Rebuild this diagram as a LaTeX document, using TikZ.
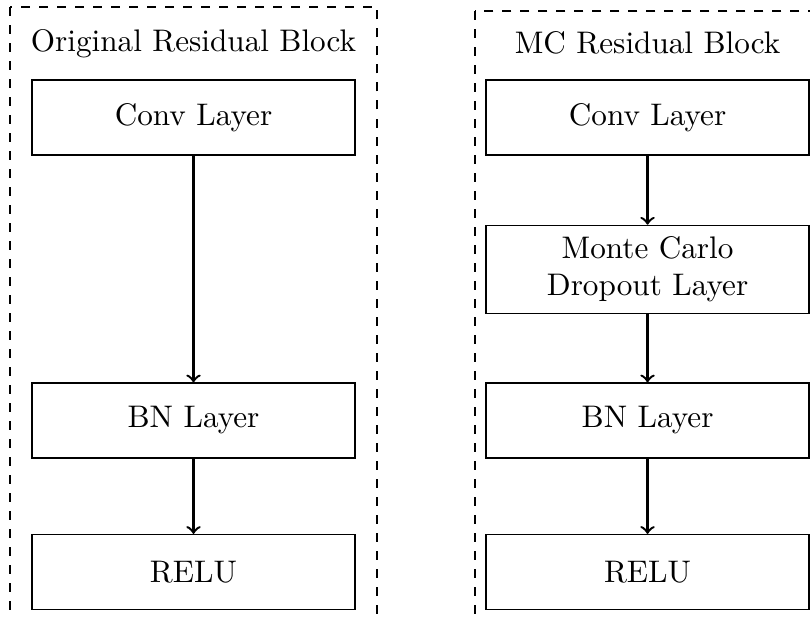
\documentclass[tikz,border=0pt]{standalone}
\begin{document}
\begin{tikzpicture}[every node/.style={font=\fontsize{10.4}{12.4}\selectfont}]
    \tikzset{layer/.style={draw, minimum width=3.784cm, minimum height=0.879cm, align=center, inner ysep=3.8pt},
             flow/.style={->, thick}}
    \useasboundingbox (0,0) rectangle (9.489,-7.228);
    % Frames
    \draw[dashed] (0.117,-0.082) rectangle (4.417,-7.6);
    \draw[dashed] (5.565,-0.129) rectangle (9.80,-7.6);
    % Original block
    \node[anchor=base] (origtitle) at (2.267,-0.609) {Original Residual Block};
    \node[layer] (origconv) at (2.267,-1.377) {Conv Layer};
    \node[layer] (origbn) at (2.267,-4.926) {BN Layer};
    \node[layer] (origrelu) at (2.267,-6.701) {RELU};
    \draw[flow] (origconv) -- (origbn);
    \draw[flow] (origbn) -- (origrelu);
    % MC block
    \node[anchor=base] (mctitle) at (7.586,-0.621) {MC Residual Block};
    \node[layer] (mcconv) at (7.586,-1.377) {Conv Layer};
    \node[layer] (mcdrop) at (7.586,-3.157) {Monte Carlo\\Dropout Layer};
    \node[layer] (mcbn) at (7.586,-4.926) {BN Layer};
    \node[layer] (mcrelu) at (7.586,-6.701) {RELU};
    \draw[flow] (mcconv) -- (mcdrop);
    \draw[flow] (mcdrop) -- (mcbn);
    \draw[flow] (mcbn) -- (mcrelu);
\end{tikzpicture}
\end{document}
